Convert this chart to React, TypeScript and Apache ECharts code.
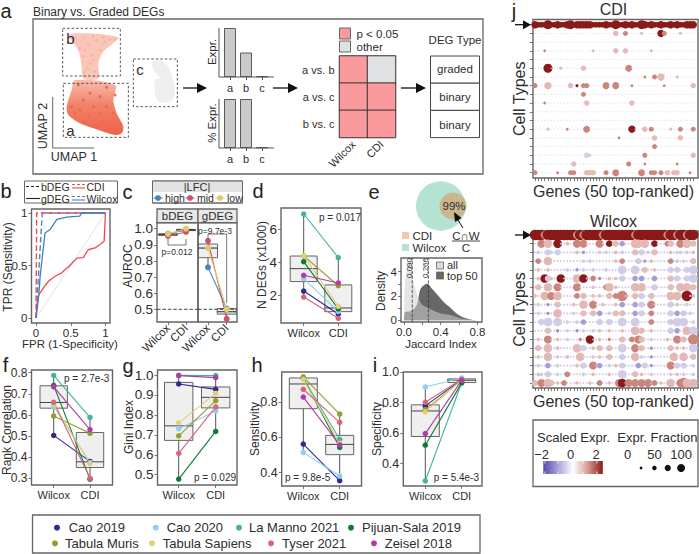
import React, { useEffect, useRef } from "react";
import * as echarts from "echarts";

const FONT = "Liberation Sans, Arial, sans-serif";
const INK = "#2e2e2e";
const FRAME = "#666666";

// ---- panel a
const barCats = ["a", "b", "c"];
const exprBars = [1, 0.5, 0.015];
const pctBars = [1, 1, 0.015];
const pairCats = ["a vs. b", "a vs. c", "b vs. c"];
const methodCats = ["Wilcox", "CDI"];
const pairSig = [[1, 0], [1, 1], [1, 1]];
const degTypes = ["graded", "binary", "binary"];

// ---- panel b
const rocWilcoxG = [[0,0],[0.02,0.1],[0.04,0.22],[0.06,0.4],[0.13,0.81],[0.2,0.84],[0.25,0.89],[0.3,0.94],[0.44,0.96],[0.63,0.97],[0.65,1],[1,1]];
const rocCdiG = [[0,0],[0.015,0.14],[0.04,0.22],[0.11,0.29],[0.18,0.35],[0.28,0.4],[0.37,0.43],[0.47,0.49],[0.59,0.57],[0.68,0.575],[0.75,0.65],[0.85,0.667],[0.94,0.71],[0.98,0.73],[0.995,0.94],[1,1]];
const rocWilcoxB = [[0,0],[0.02,0.22],[0.09,1],[1,1]];
const rocCdiB = [[0,0],[0.01,1],[1,1]];
const rocChance = [[0,0],[1,1]];

// ---- panel c
const lfcNames = ["high", "mid", "low"];
const lfcColors = ["#4a84bd", "#c9566f", "#e2cb6d"];
const cBdegWilcox = [0.97, 0.955, 0.968];
const cBdegCdi = [0.99, 0.98, 1.0];
const cGdegWilcox = [0.76, 0.925, 0.88];
const cGdegCdi = [0.505, 0.44, 0.5];
const cBdegBox = [[1,0.955,0.96,0.963,0.968,0.97],[2,0.98,0.988,0.992,0.996,1.0]];
const cGdegBox = [[1,0.76,0.82,0.88,0.905,0.925],[2,0.44,0.47,0.485,0.505,0.505]];

// ---- paired panels (order of datasetNames)
const datasetNames = ["Cao 2019","Cao 2020","La Manno 2021","Pijuan-Sala 2019","Tabula Muris","Tabula Sapiens","Tyser 2021","Zeisel 2018"];
const datasetColors = ["#2e2a8e","#8fd0f0","#45b3a0","#0f7a36","#9a9a30","#e3cf78","#d8657a","#b03ca8"];
const dWilcox = [2.28,3.03,6.92,4.05,4.4,4.41,1.92,3.23];
const dCdi = [0.9,1.05,4.3,1.2,2.6,1.36,0.64,2.77];
const dBox = [[1,1.92,2.85,3.63,4.39,6.92],[2,0.64,1.04,1.26,2.65,4.3]];
const fWilcox = [0.503,0.64,0.787,0.74,0.595,0.65,0.66,0.733];
const fCdi = [0.38,0.375,0.588,0.296,0.513,0.37,0.3,0.53];
const fBox = [[1,0.503,0.632,0.659,0.738,0.787],[2,0.296,0.351,0.378,0.517,0.588]];
const gWilcox = [0.955,0.73,0.998,0.478,0.695,0.76,0.607,0.997];
const gCdi = [0.928,0.82,0.997,0.717,0.871,0.908,0.84,0.987];
const gBox = [[1,0.478,0.672,0.745,0.963,0.998],[2,0.717,0.835,0.888,0.94,0.997]];
const hWilcox = [0.562,0.515,0.934,0.936,0.942,0.928,0.872,0.828];
const hCdi = [0.355,0.381,0.589,0.543,0.732,0.566,0.685,0.557];
const hBox = [[1,0.515,0.762,0.902,0.936,0.942],[2,0.355,0.502,0.56,0.611,0.732]];
const iWilcox = [0.778,0.902,0.287,0.521,0.754,0.739,0.802,0.597];
const iCdi = [0.95,0.961,0.93,0.929,0.945,0.948,0.952,0.945];
const iBox = [[1,0.287,0.578,0.745,0.785,0.902],[2,0.925,0.931,0.946,0.955,0.961]];

// ---- panel e
const densityAll = [[0,0],[0.01,3],[0.033,4.6],[0.065,5],[0.09,3.6],[0.12,2.7],[0.156,1.9],[0.19,1.35],[0.265,1],[0.338,0.75],[0.41,0.55],[0.52,0.4],[0.63,0.15],[0.77,0.02],[0.83,0]];
const densityTop = [[0,0],[0.01,0.66],[0.08,0.77],[0.14,1.26],[0.175,2.5],[0.21,2.85],[0.255,3],[0.3,2.63],[0.356,2.17],[0.447,1.4],[0.5,1.07],[0.556,0.66],[0.63,0.3],[0.74,0.05],[0.81,0]];
const jaccardMarks = [0.09, 0.266];

// ---- panel j: letter = [scaled expression, expression fraction]
const bubbleCodes: Record<string, number[]> = {
  ".": [-0.3,3], ":": [-0.6,9],
  i: [-0.6,28], j: [-0.6,55], k: [-0.6,82], l: [-1.3,25], n: [-1.2,48], o: [-1.2,72],
  q: [0.65,28], r: [0.65,55], s: [0.7,80], t: [0.7,100],
  u: [1.2,24], v: [1.2,50], w: [1.2,75], x: [1.2,100],
  y: [2,25], z: [2,60], A: [2,80], B: [2,100],
};
const cdiTopRow = "AzzzBzzAzzABzAAAAAzzzzAzzBzzAzAzzBAzAzzAzzAzAzzAAA";
const cdiRows = [
  "25r 28v 33q 39A 40v 45q",
  "",
  "3u 18q 25r 28r 36q",
  "",
  "4B 8q 15r 29w",
  "34u 37v 39s 44q",
  "0v 4s 11r 13y 15v 16v 22w 25w 30u 40u 49r",
  "15v",
  "3u 16r 30r",
  "",
  "",
  "4q 10u 16w 30A 34r 36v 42q 45v 49v",
  "26u 37r 45r",
  "37v",
  "16j 17i 34v 49r",
  "12r 29v 34u 44u",
  "0v 7u 11v 12v 16r 17r 18r 22v 25w 33w 36v 37v 39v 41r 43r 44r 48u",
];
const wilcoxTopRow = "BBBwBBBBBBBBBwBwBBBBBwBBBBBBBBBwBBBBBBBBBwBBwBBwBB";
const wilcoxRows = [
  "2w 4s 7A 10q 13w 15w 18: 20w 23z 25r 27n 31s 32s 34s 37z 41v 42r 45w 47s 49r",
  "1i 4j 5i 7j 13q 15l 20i 22i 25q 27i 31r 33j 35i 37r 42q 44i 45i 47i 49q",
  "1v 4s 7: 15i 17i 25q 27v 32j 34l 36q 42v 44i 46i 49r",
  "1q 4q 10i 13l 15i 18i 22i 27k 31k 34r 37q 42j 44j 47j 49k",
  "1q 3A 4j 5q 8A 13s 15A 18v 20l 23q 25q 27j 31n 33n 37n 42r 44j 47j 49k",
  "1r 4s 7w 13w 18q 22v 23s 25q 31s 33s 37j 42r 45s 47s 49r",
  "0q 3s 5w 7s 13v 15r 18q 20q 23r 25v 27x 31r 33j 36r 42s 44s 47B 49q",
  "1i 4l 7r 12q 15s 18w 21q 25q 27n 31n 33j 36w 42j 44q 47i",
  "1i 4l 7s 12i 15r 18r 20n 23i 25r 27r 31n 33j 36v 42j 44n 46j 48i",
  "2j 4k 7k 10i 13i 15n 20j 23j 27k 31k 36v 42j 44k 46k 49i",
  "4r 7l 10i 13l 15i 18i 20q 23q 27q 31s 33r 36q 42j 44n 47s 49k",
  "1q 4w 7q 10i 14u 17A 20q 23u 27r 30v 32w 33r 36i 41q 44w 46r 49x",
  "1r 4s 7q 13s 15j 18q 20r 23r 27k 31w 33r 36l 42r 44q 46q 49k",
  "1q 4s 7i 10q 14s 18i 20q 23r 27j 31s 33i 36l 43s 46s 49r",
  "1i 4n 7i 13q 15j 18w 20n 23i 25q 27j 32n 34j 36l 42w 44j 46j 49i",
  "1q 2i 4j 7i 10v 15i 18q 23q 27k 31r 33q 36i 42i 44q 46i 49i",
  "0r 2w 4s 5r 7q 9v 13q 17q 20v 23q 26w 27A 29w 31w 33w 35w 37v 39q 42s 45w 46x 47s 49s",
];
const sizeLegend = [0, 25, 50, 75, 100];
const sizeLegendLabels = ["0", "", "50", "", "100"];
const colorBarTicks = [545, 558, 570, 583, 597];

// ---- umap outlines and spots
const umapUpper = [[205,105],[260,100],[355,112],[340,130],[310,155],[295,190],[295,235],[250,235],[245,200],[238,160],[225,135]];
const umapLower = [[225,240],[345,255],[340,300],[350,340],[370,380],[365,400],[345,405],[280,385],[240,370],[205,345],[200,320],[215,270]];
const umapOther = [[455,185],[490,185],[510,210],[525,280],[510,305],[475,305],[465,280],[465,240],[480,235],[465,215]];
const umapSpotsUpper = [[240,145],[265,135],[290,120],[330,118],[250,170],[270,190],[300,150],[255,215],[285,215],[275,165],[315,125],[225,115],[250,112],[280,108],[310,112],[345,118],[262,205],[280,180],[255,150]];
const umapSpotsLower = [[240,330],[265,350],[300,340],[330,370],[355,395],[285,375],[320,320],[250,300],[300,290],[345,285],[225,340],[360,375],[310,365],[215,320],[280,320],[340,340],[255,365],[300,385],[330,395],[270,280],[235,255],[320,262]];

function range(vA: number, pA: number, vB: number, pB: number, p0: number, p1: number) {
  const k = (vB - vA) / (pB - pA);
  return [vA + (p0 - pA) * k, vA + (p1 - pA) * k];
}

const W = 699, H = 554;
const graphics: any[] = [];
const grids: any[] = [], xAxes: any[] = [], yAxes: any[] = [], series: any[] = [];

function txt(text: string, x: number, y: number, size = 11.5, opts: any = {}) {
  const { align = "center", rotation, fill = INK, baseline = "middle" } = opts;
  graphics.push({
    type: "text", x, y, rotation: rotation || 0, z: 20,
    style: { text, fontSize: size, fontFamily: FONT, fill, align, verticalAlign: baseline, textAlign: align, textVerticalAlign: baseline },
  });
}
function rect(x: number, y: number, w: number, h: number, style: any, z = 1) {
  graphics.push({ type: "rect", shape: { x, y, width: w, height: h }, style, z });
}
function seg(x1: number, y1: number, x2: number, y2: number, stroke = INK, lineWidth = 1, lineDash?: number[], z = 10) {
  graphics.push({ type: "line", shape: { x1, y1, x2, y2 }, style: { stroke, lineWidth, lineDash: lineDash || null }, z });
}
function dot(cx: number, cy: number, r: number, fill: string, z = 12) {
  graphics.push({ type: "circle", shape: { cx, cy, r }, style: { fill }, z });
}
function arrowH(x1: number, x2: number, y: number) {
  seg(x1, y, x2 - 9, y, "#111", 1.3);
  graphics.push({ type: "polygon", shape: { points: [[x2 - 10, y - 5], [x2, y], [x2 - 10, y + 5]] }, style: { fill: "#111" }, z: 10 });
}

function addGrid(left: number, right: number, top: number, bottom: number, bordered = true) {
  grids.push({ left, top, width: right - left, height: bottom - top, show: bordered, borderColor: FRAME, borderWidth: 1.4, backgroundColor: "transparent", containLabel: false });
  return grids.length - 1;
}
function valAxis(gridIndex: number, pos: string, min: number, max: number, ticks: number[], labels: number[] | null, fmt: any, size = 11.5, extra: any = {}) {
  const ax: any = {
    type: "value", gridIndex, position: pos, min, max, splitLine: { show: false },
    axisLine: { show: false, onZero: false },
    axisTick: { show: true, length: 3, lineStyle: { color: "#555", width: 0.8 }, customValues: ticks },
    axisLabel: { show: labels !== null, customValues: labels || [], formatter: fmt, fontSize: size, fontFamily: FONT, color: INK, margin: 4, hideOverlap: false, showMinLabel: true, showMaxLabel: true },
    ...extra,
  };
  (pos === "bottom" ? xAxes : yAxes).push(ax);
}

function boxSeries(data: number[][], hw: number, medW = 1) {
  series.push({
    type: "custom", xAxisIndex: xAxes.length - 1, yAxisIndex: yAxes.length - 1, data, z: 2, clip: false, silent: true,
    encode: { x: 0, y: [1, 2, 3, 4, 5] },
    renderItem: (_p: any, api: any) => {
      const x = api.value(0);
      const pt = (i: number) => api.coord([x, api.value(i)]);
      const [cx, yMin] = pt(1), [, q1] = pt(2), [, med] = pt(3), [, q3] = pt(4), [, yMax] = pt(5);
      const line = { stroke: "#555", lineWidth: 1 };
      return {
        type: "group",
        children: [
          { type: "line", shape: { x1: cx, y1: yMax, x2: cx, y2: yMin }, style: line },
          { type: "rect", shape: { x: cx - hw, y: q3, width: 2 * hw, height: q1 - q3 }, style: { fill: "#efefef", stroke: "#666", lineWidth: 1 } },
          { type: "line", shape: { x1: cx - hw, y1: med, x2: cx + hw, y2: med }, style: { stroke: "#444", lineWidth: medW } },
        ],
      };
    },
  });
}
function pairLine(name: string, color: string, a: number, b: number, size = 5.5) {
  series.push({
    type: "line", name, xAxisIndex: xAxes.length - 1, yAxisIndex: yAxes.length - 1, z: 5, silent: true, clip: false,
    data: [[1, a], [2, b]], symbol: "circle", symbolSize: size, showSymbol: true,
    lineStyle: { color, width: 1.1 }, itemStyle: { color },
  });
}

function pairedPanel(cfg: any) {
  const { left, right, top, bottom, xW, xC, yA, yB, yTicks, digits, wil, cdi, box, hw, yName, yNameX, yNameY, size = 11.5 } = cfg;
  const g = addGrid(left, right, top, bottom);
  const xr = range(1, xW, 2, xC, left, right);
  const yr = range(yA[0], yA[1], yB[0], yB[1], bottom, top);
  valAxis(g, "bottom", xr[0], xr[1], [1, 2], [1, 2], (v: number) => (v === 1 ? "Wilcox" : "CDI"), 11);
  valAxis(g, "left", yr[0], yr[1], yTicks, yTicks, (v: number) => v.toFixed(digits), size);
  boxSeries(box, hw);
  datasetNames.forEach((n, i) => pairLine(n, datasetColors[i], wil[i], cdi[i]));
  txt(yName, yNameX, yNameY, 12, { rotation: Math.PI / 2 });
}

// ========= panel letters
[["a",6,11],["b",6,191],["c",127.5,192],["d",258,191],["e",374,192],["f",5.5,365],["g",128,366],["h",257,365],["i",375,365],["j",514,11]].forEach(
  ([t, x, y]: any) => txt(t, x, y, 20, { fill: "#222" }));

// ========= panel a: frame and illustration
txt("Binary vs. Graded DEGs", 33, 12, 12, { align: "left" });
rect(33, 19, 450, 155, { fill: "none", stroke: FRAME, lineWidth: 1.3 });
const z3 = (p: number[][]) => p.map(([x, y]) => [x / 3, y / 3]);
graphics.push({ type: "polygon", shape: { points: z3(umapUpper), smooth: 0.3 }, style: { fill: "#f9c6b8" }, z: 2 });
graphics.push({ type: "polygon", shape: { points: z3(umapLower), smooth: 0.3 }, z: 2,
  style: { fill: { type: "linear", x: 0, y: 0, x2: 0, y2: 1, colorStops: [{ offset: 0, color: "#f9bdae" }, { offset: 0.45, color: "#f2826a" }, { offset: 1, color: "#ee6248" }] } } });
graphics.push({ type: "polygon", shape: { points: z3(umapOther), smooth: 0.3 }, style: { fill: "#efefef" }, z: 2 });
umapSpotsUpper.forEach(([x, y]) => dot(x / 3, y / 3, 1.3, "#f6b3a3", 3));
umapSpotsLower.forEach(([x, y]) => dot(x / 3, y / 3, 1.5, "#ec6a50", 3));
[[188/3,85/3,173/3,143/3],[190/3,250/3,195/3,162/3],[400/3,177/3,132/3,143/3]].forEach(([x,y,w,h]) =>
  rect(x, y, w, h, { fill: "none", stroke: "#444", lineWidth: 0.9, lineDash: [2.5, 2] }, 6));
txt("b", 70.5, 38, 15); txt("a", 70.5, 130.5, 15); txt("c", 140, 69, 15);
seg(52.7, 97, 52.7, 148, "#555", 0.9); seg(52.7, 148, 94, 148, "#555", 0.9);
txt("UMAP 2", 42.7, 126, 12.5, { rotation: Math.PI / 2 });
txt("UMAP 1", 74, 157, 12.5);
arrowH(183, 207, 88); arrowH(273, 298, 88); arrowH(401, 426, 88);

function miniBars(values: number[], top: number, bottom: number, yName: string, yNameY: number) {
  const g = addGrid(222, 270, top, bottom, false);
  xAxes.push({ type: "category", gridIndex: g, data: barCats, axisLine: { show: false }, axisTick: { show: true, length: 3, lineStyle: { color: "#555" }, alignWithLabel: true }, axisLabel: { fontSize: 11, fontFamily: FONT, color: INK, margin: 5 } });
  yAxes.push({ type: "value", gridIndex: g, min: 0, max: 1, show: false });
  series.push({ type: "bar", xAxisIndex: xAxes.length - 1, yAxisIndex: yAxes.length - 1, data: values, barWidth: 12, silent: true, itemStyle: { color: "#cbcbcb", borderColor: "#5a5a5a", borderWidth: 1 } });
  seg(219, top, 219, bottom, "#555", 1); seg(219, bottom, 274, bottom, "#555", 1);
  txt(yName, 212, yNameY, 11.5, { rotation: Math.PI / 2 });
}
miniBars(exprBars, 28, 77, "Expr.", 52);
miniBars(pctBars, 99, 148, "% Expr.", 123);

const heatIdx: number[] = [];
{
  const g = addGrid(339.5, 395.5, 56, 137.5, false);
  xAxes.push({ type: "category", gridIndex: g, data: methodCats, axisLine: { show: false }, axisTick: { show: false }, axisLabel: { fontSize: 11, fontFamily: FONT, color: INK, rotate: 45, margin: 5 } });
  yAxes.push({ type: "category", gridIndex: g, data: pairCats, inverse: true, axisLine: { show: false }, axisTick: { show: false }, axisLabel: { fontSize: 11, fontFamily: FONT, color: INK, margin: 5 } });
  const cells: number[][] = [];
  pairSig.forEach((row, r) => row.forEach((v, c) => cells.push([c, r, v])));
  series.push({ type: "heatmap", xAxisIndex: xAxes.length - 1, yAxisIndex: yAxes.length - 1, data: cells, silent: true, itemStyle: { borderColor: "#333", borderWidth: 1 } });
  heatIdx.push(series.length - 1);
  rect(339.5, 28, 11, 11, { fill: "#fb9a9c", stroke: "#666", lineWidth: 1 });
  rect(339.5, 41, 11, 11, { fill: "#dfe1e3", stroke: "#666", lineWidth: 1 });
  txt("p < 0.05", 356.5, 33.5, 11.5, { align: "left" });
  txt("other", 356.5, 46.5, 11.5, { align: "left" });
  txt("DEG Type", 455, 40, 11.5);
  degTypes.forEach((t, i) => {
    const y = 56 + i * 27.2;
    rect(430.5, y, 49, 27.2, { fill: "#fff", stroke: "#444", lineWidth: 1 });
    txt(t, 455, 69 + i * 28.1, 11.5);
  });
}

// ========= panel b
{
  const g = addGrid(31.5, 110, 209, 323);
  const xr = range(0, 36, 1, 105.5, 31.5, 110);
  const yr = range(0, 318, 1, 213, 323, 209);
  valAxis(g, "bottom", xr[0], xr[1], [0, 0.5, 1], [0, 0.5, 1], (v: number) => String(v));
  valAxis(g, "left", yr[0], yr[1], [0, 0.5, 1], [0, 0.5, 1], (v: number) => String(v));
  const roc = (data: number[][], color: string, type: string, width: number) =>
    series.push({ type: "line", xAxisIndex: xAxes.length - 1, yAxisIndex: yAxes.length - 1, data, showSymbol: false, symbol: "none", silent: true, lineStyle: { color, type, width } });
  roc(rocChance, "#dddddd", "solid", 0.9);
  roc(rocWilcoxB, "#4a86c8", "dashed", 1.4);
  roc(rocCdiB, "#f4474c", "dashed", 1.4);
  roc(rocCdiG, "#f4474c", "solid", 1.3);
  roc(rocWilcoxG, "#3f7fc4", "solid", 1.3);
  rect(24.5, 181, 93, 22, { fill: "#fff", stroke: FRAME, lineWidth: 1 });
  seg(26, 186.5, 40, 186.5, "#222", 1.1, [3, 2]);
  seg(26, 198.5, 40, 198.5, "#222", 1.1);
  txt("bDEG", 41, 186.5, 10.5, { align: "left" });
  txt("gDEG", 41, 198.5, 10.5, { align: "left" });
  seg(72, 184.5, 85, 184.5, "#f4474c", 1.1, [3, 2]); seg(72, 188, 85, 188, "#f4474c", 1.1);
  seg(72, 196.5, 85, 196.5, "#4a86c8", 1.1, [3, 2]); seg(72, 200, 85, 200, "#4a86c8", 1.1);
  txt("CDI", 86.5, 186.5, 10.5, { align: "left" });
  txt("Wilcox", 86.5, 198.5, 10.5, { align: "left" });
  txt("TPR (Sensitivity)", 8, 267, 12, { rotation: Math.PI / 2 });
  txt("FPR (1-Specificity)", 70, 344, 11.5);
}

// ========= panel c
{
  const top = 222.7, bottom = 322;
  const yr = range(1, 228.7, 0.5, 309.3, bottom, top);
  const aurocTicks = [0.5, 0.6, 0.7, 0.8, 0.9, 1];
  const facet = (left: number, right: number, xW: number, xC: number, wil: number[], cdi: number[], box: number[][], hasY: boolean, medW: number) => {
    const g = addGrid(left, right, top, bottom);
    const xr = range(1, xW, 2, xC, left, right);
    valAxis(g, "bottom", xr[0], xr[1], [1, 2], [1, 2], (v: number) => (v === 1 ? "Wilcox" : "CDI"), 11.5, {});
    xAxes[xAxes.length - 1].axisLabel.rotate = 45;
    valAxis(g, "left", yr[0], yr[1], hasY ? aurocTicks : [], hasY ? aurocTicks : null, (v: number) => v.toFixed(1), 13.5);
    boxSeries(box, 9.5, medW);
    series.push({ type: "line", xAxisIndex: xAxes.length - 1, yAxisIndex: yAxes.length - 1, data: [[xr[0], 0.5], [xr[1], 0.5]], symbol: "none", silent: true, lineStyle: { color: "#333", type: "dashed", width: 0.9 }, z: 3 });
    lfcNames.forEach((n, i) => pairLine(n, lfcColors[i], wil[i], cdi[i], 6));
  };
  facet(157, 198, 168, 186, cBdegWilcox, cBdegCdi, cBdegBox, true, 1.8);
  facet(198, 237, 208, 226.7, cGdegWilcox, cGdegCdi, cGdegBox, false, 1.2);
  rect(157, 209, 41, 13.7, { fill: "#e8e8e8", stroke: FRAME, lineWidth: 1.3 });
  rect(198, 209, 39, 13.7, { fill: "#e8e8e8", stroke: FRAME, lineWidth: 1.3 });
  txt("bDEG", 177.5, 216, 11.5); txt("gDEG", 217.5, 216, 11.5);
  txt("AUROC", 128, 266, 12, { rotation: Math.PI / 2 });
  seg(168, 239, 168, 245, "#555", 0.8); seg(168, 245, 186, 245, "#555", 0.8); seg(186, 245, 186, 239, "#555", 0.8);
  txt("p=0.012", 177, 252, 8.5);
  txt("p=9.7e-3", 215, 230.5, 8.5);
  seg(208, 234, 226.7, 234, "#555", 0.8); seg(226.7, 234, 226.7, 303, "#555", 0.8); seg(208, 234, 208, 239, "#555", 0.8);
  rect(152.5, 181, 90, 22, { fill: "#fff", stroke: FRAME, lineWidth: 1 });
  rect(152.5, 181, 90, 11, { fill: "#e3e3e3", stroke: "none" });
  rect(152.5, 181, 90, 22, { fill: "none", stroke: FRAME, lineWidth: 1 }, 2);
  txt("|LFC|", 197, 186.5, 11);
  const lx = [158, 190, 220];
  lfcNames.forEach((n, i) => {
    seg(lx[i] - 4.5, 198, lx[i] + 4.5, 198, lfcColors[i], 1.1);
    dot(lx[i], 198, 3, lfcColors[i]);
    txt(n, lx[i] + 7, 198, 10.5, { align: "left" });
  });
}

// ========= panel d
pairedPanel({ left: 281, right: 361, top: 208, bottom: 323, xW: 303.7, xC: 338.3, yA: [6, 229.3], yB: [2, 295.7], yTicks: [2, 4, 6], digits: 0, wil: dWilcox, cdi: dCdi, box: dBox, hw: 13.5, yName: "N DEGs (x1000)", yNameX: 262, yNameY: 265, size: 13.5 });
txt("p = 0.017", 319, 217, 10, { align: "left" });

// ========= panel e
{
  graphics.push({ type: "circle", shape: { cx: 440.7, cy: 206, r: 24.7 }, style: { fill: "#b5e3d3" }, z: 2 });
  graphics.push({ type: "circle", shape: { cx: 453, cy: 206, r: 13.5 }, style: { fill: "#c9b78e" }, z: 3 });
  txt("99%", 454, 206, 11.5);
  seg(463, 228, 456, 217, "#111", 1);
  graphics.push({ type: "polygon", shape: { points: [[454, 212], [461.5, 218], [455, 222]] }, style: { fill: "#111" }, z: 12 });
  rect(402, 232, 7, 7, { fill: "#f4c9a9", stroke: "none" });
  rect(402, 244, 7, 7, { fill: "#b5e3d3", stroke: "none" });
  txt("CDI", 412.5, 236, 11.5, { align: "left" });
  txt("Wilcox", 412.5, 248, 11.5, { align: "left" });
  txt("C∩W", 466, 236, 11.5);
  seg(452, 241, 480, 241, "#333", 0.9);
  txt("C", 466, 248, 11.5);

  const left = 401, right = 482, top = 258, bottom = 322;
  const g = addGrid(left, right, top, bottom);
  const xr = range(0, 404, 0.4, 440.7, left, right);
  const yr = range(0, 320.3, 4, 271.7, bottom, top);
  valAxis(g, "bottom", xr[0], xr[1], [0, 0.2, 0.4, 0.6, 0.8], [0, 0.4, 0.8], (v: number) => v.toFixed(1));
  valAxis(g, "left", yr[0], yr[1], [0, 1, 2, 3, 4], [0, 2, 4], (v: number) => String(v));
  const xi = xAxes.length - 1, yi = yAxes.length - 1;
  series.push({ type: "line", xAxisIndex: xi, yAxisIndex: yi, data: densityTop, smooth: 0.3, symbol: "none", silent: true, lineStyle: { width: 0 }, areaStyle: { color: "#686868", opacity: 1 }, z: 2 });
  series.push({ type: "line", xAxisIndex: xi, yAxisIndex: yi, data: densityAll, smooth: 0.3, symbol: "none", silent: true, lineStyle: { width: 0 }, areaStyle: { color: "#d0d0d0", opacity: 0.55 }, z: 3 });
  jaccardMarks.forEach((m) =>
    series.push({ type: "line", xAxisIndex: xi, yAxisIndex: yi, data: [[m, yr[0]], [m, yr[1]]], symbol: "none", silent: true, lineStyle: { color: "#333", type: "dashed", width: 0.8 }, z: 4 }));
  txt("0.090", 409, 268, 8, { rotation: Math.PI / 2 });
  txt("0.266", 425, 268, 8, { rotation: Math.PI / 2 });
  rect(436.5, 262, 7, 7, { fill: "#d9d9d9", stroke: "#666", lineWidth: 0.8 }, 15);
  rect(436.5, 272, 7, 7, { fill: "#686868", stroke: "#666", lineWidth: 0.8 }, 15);
  txt("all", 447, 264.8, 11, { align: "left" });
  txt("top 50", 447, 276, 11, { align: "left" });
  txt("Density", 381, 291, 12, { rotation: Math.PI / 2 });
  txt("Jaccard Index", 441, 344, 11.5);
}

// ========= panels f to i
pairedPanel({ left: 31.5, right: 112.5, top: 370, bottom: 485, xW: 53.7, xC: 90, yA: [0.8, 372.7], yB: [0.3, 478.3], yTicks: [0.3,0.4,0.5,0.6,0.7,0.8], digits: 1, wil: fWilcox, cdi: fCdi, box: fBox, hw: 13.7, yName: "Rank Correlation", yNameX: 7, yNameY: 430, size: 12 });
txt("p = 2.7e-3", 64, 378.5, 10, { align: "left" });
pairedPanel({ left: 157.5, right: 237, top: 370, bottom: 485, xW: 178.7, xC: 215.7, yA: [1, 375], yB: [0.5, 474.7], yTicks: [0.5,0.6,0.7,0.8,0.9,1], digits: 1, wil: gWilcox, cdi: gCdi, box: gBox, hw: 14.2, yName: "Gini Index", yNameX: 128.5, yNameY: 427, size: 13.5 });
txt("p = 0.029", 236, 477, 10, { align: "right" });
pairedPanel({ left: 281.7, right: 361.5, top: 372, bottom: 486, xW: 303.3, xC: 339.7, yA: [0.8, 402], yB: [0.4, 472.7], yTicks: [0.4, 0.6, 0.8], digits: 1, wil: hWilcox, cdi: hCdi, box: hBox, hw: 14, yName: "Sensitivity", yNameX: 255, yNameY: 429, size: 12.5 });
txt("p = 9.8e-5", 285, 477, 10, { align: "left" });
pairedPanel({ left: 403.3, right: 482, top: 372, bottom: 486, xW: 425.3, xC: 461.7, yA: [1, 372], yB: [0.4, 463.7], yTicks: [0.4, 0.6, 0.8, 1], digits: 1, wil: iWilcox, cdi: iCdi, box: iBox, hw: 14, yName: "Specificity", yNameX: 376.5, yNameY: 429, size: 12.5 });
txt("p = 5.4e-3", 479, 477, 10, { align: "right" });

// ========= bottom legend
rect(32.5, 515, 447.5, 38, { fill: "#fff", stroke: FRAME, lineWidth: 1.3 });
const legendDotX = [57, 155.7, 239, 351, 55, 152, 271, 374];
const legendTextX = [68.7, 166.7, 249, 362, 65, 162.7, 282, 384.7];
datasetNames.forEach((n, i) => {
  const y = i < 4 ? 527.7 : 543.3;
  dot(legendDotX[i], y, 3, datasetColors[i]);
  txt(n, legendTextX[i], y, 13, { align: "left" });
});

// ========= panel j
const scatterIdx: number[] = [];
function bubblePanel(title: string, left: number, right: number, top: number, bottom: number, row0: number, rowLast: number, firstRow: string, rows: string[], bg: string, scale: number) {
  const points: number[][] = [];
  firstRow.split("").forEach((ch, c) => { const k = bubbleCodes[ch]; points.push([c, 0, k[0], k[1]]); });
  rows.forEach((s, r) => {
    const filled: Record<number, string> = {};
    s.split(" ").filter(Boolean).forEach((tok) => { filled[parseInt(tok, 10)] = tok.replace(/[0-9]/g, ""); });
    for (let c = 0; c < 50; c++) {
      const k = bubbleCodes[filled[c] || bg];
      points.push([c, r + 1, k[0], k[1]]);
    }
  });
  const g = addGrid(left, right, top, bottom);
  const xr = range(0, 535, 49, 693.3, left, right);
  const yr = range(0, row0, 17, rowLast, top, bottom);
  const cols = Array.from({ length: 50 }, (_, i) => i);
  const rws = Array.from({ length: 18 }, (_, i) => i);
  valAxis(g, "bottom", xr[0], xr[1], cols, null, null);
  valAxis(g, "left", yr[0], yr[1], rws, null, null, 11, { inverse: true });
  series.push({
    type: "scatter", name: title, xAxisIndex: xAxes.length - 1, yAxisIndex: yAxes.length - 1, data: points, silent: true, clip: true, z: 4,
    symbolSize: (v: number[]) => 1 + v[3] * scale,
    itemStyle: { opacity: 1 },
  });
  scatterIdx.push(series.length - 1);
  const mid = (left + right) / 2 - 2;
  txt(title, mid, top - 10, 16);
  txt("Genes (50 top-ranked)", mid, bottom + 13.5, 16);
  txt("Cell Types", 519, (top + bottom) / 2, 16, { rotation: Math.PI / 2 });
  seg(515, row0, 524, row0, "#111", 1.3);
  graphics.push({ type: "polygon", shape: { points: [[523, row0 - 4.5], [531, row0], [523, row0 + 4.5]] }, style: { fill: "#111" }, z: 10 });
}
bubblePanel("CDI", 533, 698, 19.5, 178, 24.7, 172.7, cdiTopRow, cdiRows, ".", 0.08);
bubblePanel("Wilcox", 533, 698, 231, 388, 235, 383, wilcoxTopRow, wilcoxRows, ":", 0.095);

rect(533, 420, 165, 66.5, { fill: "#fff", stroke: FRAME, lineWidth: 1.3 });
txt("Scaled Expr.", 537, 437, 13, { align: "left" });
txt("Expr. Fraction", 617.3, 437, 13, { align: "left" });
txt("−2", 541.6, 454, 13);
txt("0", 570.7, 454, 13);
txt("2", 596, 454, 13);
rect(543.3, 461, 59.5, 13, {
  stroke: "none",
  fill: { type: "linear", x: 0, y: 0, x2: 1, y2: 0, colorStops: [{ offset: 0, color: "#5348ad" }, { offset: 0.25, color: "#a9a3d8" }, { offset: 0.5, color: "#ffffff" }, { offset: 0.75, color: "#d59b92" }, { offset: 1, color: "#8a1a1a" }] },
}, 5);
colorBarTicks.forEach((x) => { seg(x, 461, x, 463.5, "#ffffff", 0.8); seg(x, 471.5, x, 474, "#ffffff", 0.8); });
sizeLegend.forEach((p, i) => {
  const x = 627.7 + i * 13.35;
  dot(x, 468, (1 + p * 0.07) / 2, "#111");
  if (sizeLegendLabels[i]) txt(sizeLegendLabels[i], x, 454, 13);
});

export default function App() {
  const ref = useRef<HTMLDivElement>(null);
  useEffect(() => {
    const chart = echarts.init(ref.current!, null, { renderer: "svg", width: W, height: H });
    chart.setOption({
      animation: false,
      backgroundColor: "#ffffff",
      textStyle: { fontFamily: FONT },
      grid: grids,
      xAxis: xAxes,
      yAxis: yAxes,
      visualMap: [
        {
          type: "continuous", show: false, min: -2, max: 2, dimension: 2, seriesIndex: scatterIdx,
          inRange: { color: ["#4f45a8", "#b9b4e0", "#f4eff5", "#dc9f96", "#8a1a1a"] },
        },
        {
          type: "piecewise", show: false, dimension: 2, seriesIndex: heatIdx,
          pieces: [{ value: 0, color: "#dfe1e3" }, { value: 1, color: "#fb9a9c" }],
        },
      ],
      series,
      graphic: { elements: graphics },
    });
    return () => chart.dispose();
  }, []);
  return <div ref={ref} style={{ position: "absolute", left: 0, top: 0, width: W, height: H }} />;
}
